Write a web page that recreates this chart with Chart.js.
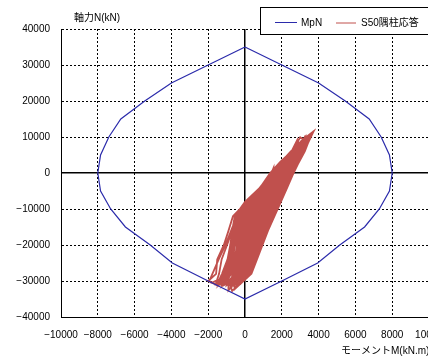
<!DOCTYPE html>
<html>
<head>
<meta charset="utf-8">
<script src="https://cdn.jsdelivr.net/npm/chart.js@4"></script>
<style>
  html, body { margin: 0; padding: 0; background: #fff; overflow: hidden; width: 428px; height: 360px; }
  #wrap { position: relative; width: 460px; height: 360px; }
</style>
</head>
<body>
<div id="wrap"><canvas id="c" width="460" height="360"></canvas></div>
<script>
// Axis texts and series names
const yAxisTitle = '軸力N(kN)';
const xAxisTitle = 'モーメントM(kN.m)';
const seriesNames = ['MpN', 'S50隅柱応答'];
const seriesColors = ['#2b2bab', '#c0504d'];

// Axis ranges (kN.m, kN)
const xRange = [-10000, 10000, 2000];
const yRange = [-40000, 40000, 10000];

// M-N interaction curve, [M, N]
const mpnCurve = [
  [0, 35000], [2000, 30000], [4000, 25000], [5450, 20000], [6750, 15000],
  [7400, 10000], [7850, 5000], [8000, 0], [7850, -5000], [7300, -10000],
  [6500, -15000], [5150, -20000], [3950, -25000], [2000, -30000], [0, -35000],
  [-2000, -30000], [-3950, -25000], [-5150, -20000], [-6500, -15000], [-7300, -10000],
  [-7850, -5000], [-8000, 0], [-7850, 5000], [-7400, 10000], [-6750, 15000],
  [-5450, 20000], [-4000, 25000], [-2000, 30000], [0, 35000]
];

// Corner column response history, [M, N]
const s50Response = [
  [650,-9000],
  [1835,-4000],[683,-8000],[80,-16000],
  [985,-12000],[1463,-8000],[2305,0],[1215,-4000],[488,-8000],[-212,-16000],[-275,-20000],
  [860,-16000],[1658,-8000],[2506,0],[2743,3000],[1903,0],[585,-8000],[-310,-16000],[-390,-24000],
  [513,-20000],[1088,-12000],[1913,-4000],[2171,0],[1448,-4000],[473,-12000],[-150,-24000],[-370,-28000],
  [490,-24000],[1094,-16000],[1814,-8000],[2573,0],[3170,6000],[3425,9000],[2610,6000],[1702,0],[390,-8000],[-408,-16000],[-538,-20000],
  [470,-16000],[1170,-8000],[1758,-4000],[878,-8000],[-18,-16000],[-310,-24000],[-1092,-31000],
  [110,-28000],[410,-24000],[958,-16000],[1716,-8000],[2439,0],[975,-8000],[373,-16000],[163,-20000],
  [1153,-16000],[1892,-8000],[2640,0],[3210,6000],[3730,11600],[3075,9000],[2530,6000],[1434,0],[195,-8000],[-348,-12000],[-603,-16000],[-625,-20000],[-710,-24000],[-930,-28000],[-1455,-31000],[-1950,-30100],
  [-1430,-24000],[-1063,-20000],[-450,-12000],[293,-8000],[1215,-4000],[780,-8000],[178,-16000],[-70,-24000],
  [665,-16000],[1365,-8000],[1990,-4000],[2372,0],[2795,3000],[1769,0],[1060,-4000],[293,-8000],[-245,-12000],[-505,-16000],[-630,-24000],[-770,-28000],
  [250,-24000],[763,-16000],[1560,-8000],[2068,-4000],[1073,-8000],[275,-16000],[-13,-20000],
  [1055,-16000],[1755,-8000],[2533,0],[3090,6000],[3350,9000],[3250,10000],[3150,9000],[2730,6000],[2165,3000],[1635,0],[488,-8000],[-115,-16000],[-470,-24000],[-610,-28000],
  [270,-28000],[570,-24000],[1192,-16000],[1853,-8000],[2600,0],[1370,-4000],[683,-8000],[80,-16000],[-230,-24000],[-875,-31000],[-900,-32600],
  [-130,-28000],[90,-24000],[568,-16000],[1268,-8000],[1680,-4000],[585,-8000],[63,-12000],[-310,-16000],[-363,-20000],
  [883,-12000],[1365,-8000],[2104,0],[2585,3000],[1568,0],[983,-4000],[98,-8000],[-450,-12000],[-700,-16000],[-713,-20000],
  [250,-20000],[678,-12000],[975,-8000],[1448,-4000],[1568,0],[1550,1400],[1434,0],[905,-4000],[390,-8000],[-115,-16000],[-550,-24000],[-690,-28000],
  [330,-24000],[899,-16000],[1599,-8000],[2479,0],[2848,3000],[3130,6000],[2375,3000],[1836,0],[1215,-4000],[780,-8000],[178,-16000],[-100,-20000],
  [665,-16000],[1521,-8000],[2145,-4000],[1170,-8000],[373,-16000],[10,-24000],[-210,-28000],[-803,-31000],[-700,-32800],
  [190,-28000],[458,-24000],[1016,-16000],[1755,-8000],[2546,0],[2690,3000],[1970,0],[1293,-4000],[488,-8000],[-143,-12000],[-505,-16000],[-713,-20000],[-870,-24000],[-1090,-28000],[-1310,-31000],[-1600,-31000],
  [-1410,-28000],[-1270,-24000],[-975,-20000],[-700,-16000],[-348,-12000],[390,-8000],[1525,-4000],[2037,0],[1138,-4000],[585,-8000],[-18,-16000],[-310,-24000],
  [763,-16000],[1658,-8000],[2372,0],[2638,3000],[3010,6000],[3300,9000],[3000,9900],[2570,6000],[2008,3000],[1501,0],[1060,-4000],[683,-8000],[80,-16000],[-188,-20000],
  [958,-16000],[1794,-8000],[2613,0],[3250,6000],[3475,9000],[3650,11000],[3200,9000],[2770,6000],[2270,3000],[1769,0],[1138,-4000],[390,-8000],[-245,-12000],[-408,-16000],[-790,-24000],[-1010,-28000],[-1238,-31000],
  [-50,-28000],[170,-24000],[665,-16000],[1404,-8000],[1959,-4000],[878,-8000],[178,-16000],[-230,-24000],[-450,-28000],
  [522,-24000],[1055,-16000],[1716,-8000],[2399,0],[2533,3000],[2037,0],[1525,-4000],[975,-8000],[275,-16000],[75,-20000],
  [821,-16000],[1560,-8000],[2176,-4000],[2506,0],[2774,3000],[3050,6000],[2850,9250],[2530,6000],[1903,3000],[1367,0],[828,-4000],[0,-8000],[-553,-12000],[-700,-16000],[-800,-20000],[-950,-24000],[-1250,-28000],[-1528,-31000],[-2000,-30000],
  [-1570,-28000],[-1510,-24000],[-1150,-20000],[-895,-16000],[-655,-12000],[98,-8000],[1060,-4000],[195,-8000],[-40,-12000],[-310,-16000],[-450,-20000],[-470,-24000],[-530,-28000],
  [602,-24000],[1211,-16000],[1911,-8000],[2573,0],[2900,3000],[3186,6000],[3450,9000],[3600,10500],[3275,9000],[2850,6000],[2428,3000],[2104,0],[1603,-4000],[1073,-8000],[470,-16000],[338,-20000],
  [1016,-16000],[1755,-8000],[2223,-4000],[2439,0],[1680,-4000],[1170,-8000],[568,-16000],[170,-24000],[-50,-28000],[-585,-31000],[-550,-32200],
  [350,-28000],[650,-24000],[1250,-16000],[1950,-8000],[2300,-4000],[2640,0],[2848,3000],[3154,6000],[2480,3000],[2238,0],[1835,-4000],[1365,-8000],[763,-16000],[330,-24000],[30,-28000],[-440,-31000],
  [-730,-31000],[-290,-28000],[10,-24000],[285,-20000],[509,-16000],[1209,-8000],[1603,-4000],[1970,0],[2480,3000],[2930,6000],[3250,9000],[2690,6000],[2060,3000],[1501,0],[905,-4000],[195,-8000],[-143,-12000],[-408,-16000],[-450,-20000],[-550,-24000],[-770,-28000],[-1165,-31000],
  [-450,-28000],[-70,-24000],[425,-20000],[704,-16000],[1463,-8000],[1835,-4000],[2104,0],[2323,3000],[2810,6000],[3125,9000],[3300,10200],[3325,9000],[2970,6000],[2585,3000],[2238,0],[1758,-4000],[1268,-8000],[780,-12000],[470,-16000],[250,-20000],[90,-24000],[-210,-28000],[-658,-31000],
  [-513,-31000],[110,-28000],[490,-24000],[775,-20000],[1055,-16000],[1436,-12000],[1755,-8000],[2068,-4000],[2345,0],[1293,-4000],[780,-8000],[268,-12000],[-115,-16000],[-188,-20000],[-390,-24000],[-610,-28000],[-948,-31000],
  [-130,-28000],[202,-24000],[600,-20000],[860,-16000],[1231,-12000],[1560,-8000],[1990,-4000],[2305,0],[2638,3000],[2970,6000],[2218,3000],[1702,0],[1138,-4000],[585,-8000],[63,-12000],[-212,-16000],[-363,-20000],[-630,-24000],[-850,-28000],[-1310,-31000],
  [-1020,-31000],[-530,-28000],[-150,-24000],[163,-20000],[373,-16000],[678,-12000],[1073,-8000],[1525,-4000],[1903,0],[2270,3000],[1635,0],[983,-4000],[98,-8000],[-348,-12000],[-603,-16000],[-660,-20000],[-790,-24000],[-1010,-28000],[-1383,-31000],
  [-690,-28000],[-310,-24000],[-13,-20000],[275,-16000],[575,-12000],[975,-8000],[1448,-4000],[1769,0],[1370,-4000],[878,-8000],[370,-12000],[41,-16000],[-100,-20000],[-230,-24000],[-450,-28000],[-875,-31000],
  [-295,-31000],[270,-28000],[602,-24000],[898,-20000],[1211,-16000],[1559,-12000],[1911,-8000],[2254,-4000],[2600,0],[2869,3000],[3226,6000],[3450,9000],[3700,11300],[3100,9000],[2650,6000],[2113,3000],[1568,0],[983,-4000],[293,-8000],[-245,-12000],[-505,-16000],[-590,-20000],[-758,-24000],[-1058,-28000],[-1455,-31000],
  [30,-28000],[362,-24000],[688,-20000],[997,-16000],[1334,-12000],[1658,-8000],[2145,-4000],[2479,0],[2711,3000],[3090,6000],[2323,3000],[1903,0],[1448,-4000],[975,-8000],[575,-12000],[178,-16000],[75,-20000],[-70,-24000],[-290,-28000],[-701,-31000],
  [-368,-31000],[190,-28000],[570,-24000],[828,-20000],[1114,-16000],[1498,-12000],[1853,-8000],[2192,-4000],[2546,0],[2795,3000],[2104,0],[1680,-4000],[1268,-8000],[985,-12000],[665,-16000],[460,-20000],[250,-24000],[-50,-28000],[-585,-31000],
  [-803,-31000],[-370,-28000],[10,-24000],[338,-20000],[626,-16000],[985,-12000],[1365,-8000],[1913,-4000],[2238,0],[2428,3000],[2850,6000],[2950,8200],[2490,6000],[1955,3000],[1367,0],[828,-4000],[156,-8000],[-450,-12000],[-661,-16000],[-765,-20000],[-870,-24000],[-1170,-28000],[-1528,-31000],[-1800,-30500],
  [-850,-28000],[-470,-24000],[-188,-20000],[80,-16000],[370,-12000],[780,-8000],[1293,-4000],[1702,0],[2113,3000],[1836,0],[1215,-4000],[390,-8000],[-40,-12000],[-310,-16000],[-275,-20000],[-390,-24000],[-530,-28000],
  [410,-24000],[740,-20000],[1055,-16000],[1354,-12000],[1794,-8000],[2223,-4000],[2506,0],[2743,3000],[3130,6000],[3375,9000],[2890,6000],[2480,3000],[2037,0],[1525,-4000],[878,-8000],[473,-12000],[275,-16000],[163,-20000],[42,-24000],[-130,-28000],[-513,-31000],
  [318,-28000],[634,-24000],[933,-20000],[1231,-16000],[1580,-12000],[1931,-8000],[2285,-4000],[2627,0],[1835,-4000],[1463,-8000],[1149,-12000],[860,-16000],[600,-20000],[330,-24000],[110,-28000],[-266,-31000]
];

const toPoints = arr => arr.map(([x, y]) => ({ x, y }));
const fmt = v => String(v).replace('-', '\u2212');
const tickFont = { family: "'Liberation Sans', Arial, sans-serif", size: 10 };
const textFont = "10px 'Liberation Sans', 'Noto Sans CJK JP', sans-serif";

const gridStyle = {
  color: '#000',
  lineWidth: c => (c.tick && c.tick.value === 0) ? 1.5 : 1,
  drawTicks: false
};
const borderStyle = {
  display: true, color: '#000', width: 1,
  dash: c => (c.tick && c.tick.value === 0) ? [] : [2, 2]
};

// Axis titles and the boxed legend drawn over the plot
const overlay = {
  id: 'overlay',
  afterDraw(chart) {
    const c = chart.ctx;
    c.save();
    c.font = textFont;
    c.fillStyle = '#000';
    c.textBaseline = 'middle';
    c.textAlign = 'left';
    c.fillText(yAxisTitle, 74, 18);
    c.fillText(xAxisTitle, 341, 351);

    c.fillStyle = '#fff';
    c.fillRect(260, 7, 210, 28);
    c.strokeStyle = '#000';
    c.lineWidth = 1;
    c.strokeRect(260.5, 7.5, 210, 27);

    const items = [
      { x0: 275, x1: 297, tx: 301, y: 22.5 },
      { x0: 336, x1: 356, tx: 361, y: 23 }
    ];
    items.forEach((it, i) => {
      c.strokeStyle = seriesColors[i];
      c.lineWidth = 1;
      c.beginPath();
      c.moveTo(it.x0, it.y);
      c.lineTo(it.x1, it.y);
      c.stroke();
      c.fillStyle = '#000';
      c.fillText(seriesNames[i], it.tx, 23);
    });
    c.restore();
  }
};

new Chart(document.getElementById('c'), {
  type: 'scatter',
  data: {
    datasets: [
      {
        label: seriesNames[0],
        data: toPoints(mpnCurve),
        showLine: true,
        borderColor: seriesColors[0],
        backgroundColor: seriesColors[0],
        borderWidth: 1.2,
        pointRadius: 0,
        tension: 0,
        fill: false
      },
      {
        label: seriesNames[1],
        data: toPoints(s50Response),
        showLine: true,
        borderColor: seriesColors[1],
        backgroundColor: seriesColors[1],
        borderWidth: 1.8,
        pointRadius: 0,
        tension: 0,
        fill: false
      }
    ]
  },
  options: {
    responsive: false,
    animation: false,
    devicePixelRatio: 1,
    layout: { padding: { left: 0, top: 29, right: 31, bottom: 0 } },
    plugins: { legend: { display: false }, tooltip: { enabled: false } },
    scales: {
      x: {
        type: 'linear',
        min: xRange[0], max: xRange[1],
        ticks: { stepSize: xRange[2], color: '#000', font: tickFont, padding: 12,
                 autoSkip: false, maxRotation: 0, callback: fmt },
        grid: gridStyle,
        border: borderStyle,
        afterFit: s => { s.height = 43; }
      },
      y: {
        type: 'linear',
        min: yRange[0], max: yRange[1],
        ticks: { stepSize: yRange[2], color: '#000', font: tickFont, padding: 11,
                 autoSkip: false, callback: fmt },
        grid: gridStyle,
        border: borderStyle,
        afterFit: s => { s.width = 61; }
      }
    }
  },
  plugins: [overlay]
});
</script>
</body>
</html>
